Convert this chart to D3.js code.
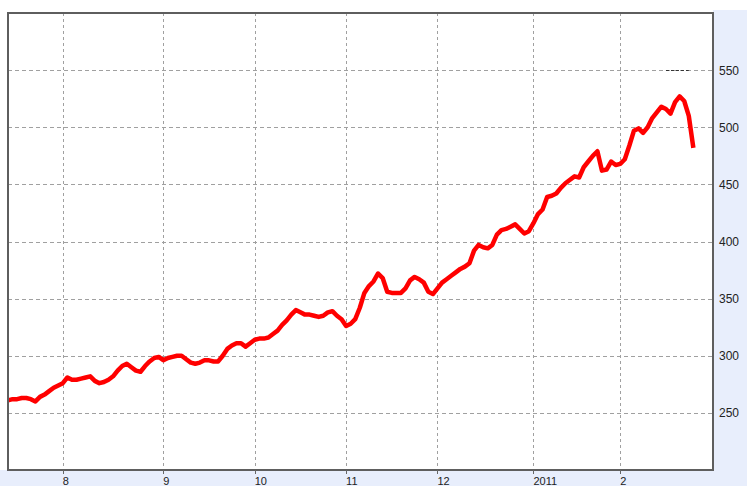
<!DOCTYPE html>
<html>
<head>
<meta charset="utf-8">
<script src="https://cdn.jsdelivr.net/npm/d3@7"></script>
<style>
  body { margin: 0; background: #fff; }
  svg { display: block; }
</style>
</head>
<body>
<div id="chart"></div>
<script>
// closing prices, one per trading day (mid-July 2010 to late Feb 2011)
const prices = [
  261, 262, 262, 263, 263, 262, 260, 264, 266, 269,
  272, 274, 276, 281, 279, 279, 280, 281, 282, 278,
  276, 277, 279, 282, 287, 291, 293, 290, 287, 286,
  291, 295, 298, 299, 296, 298, 299, 300, 300, 297,
  294, 293, 294, 296, 296, 295, 295, 300, 306, 309,
  311, 311, 308, 311, 314, 315, 315, 316, 319, 322,
  327, 331, 336, 340, 338, 336, 336, 335, 334, 335,
  338, 339, 335, 332, 326, 328, 332, 342, 355, 361,
  365, 372, 368, 356, 355, 355, 355, 359, 366, 369,
  367, 364, 356, 354, 359, 364, 367, 370, 373, 376,
  378, 381, 392, 397, 395, 394, 397, 406, 410, 411,
  413, 415, 411, 407, 409, 416, 424, 428, 439, 440,
  442, 447, 451, 454, 457, 456, 465, 470, 475, 479,
  462, 463, 470, 467, 468, 472, 484, 497, 499, 495,
  500, 508, 513, 518, 516, 512, 522, 527, 523, 510,
  482
];

// month starts as trading-day index
const monthLabels = ['8', '9', '10', '11', '12', '2011', '2'];
const monthIndex = [12, 34, 54, 74, 94, 115, 134];

const yTicks = [250, 300, 350, 400, 450, 500, 550];
const refLevel = 550;
const refSpan = [144, 149];

const width = 747, height = 486;
const plot = { left: 8, top: 13, right: 713, bottom: 470 };

const svg = d3.select('#chart')
  .append('svg')
  .attr('width', width)
  .attr('height', height);

// light blue frame around the plot (right and bottom)
svg.append('rect')
  .attr('x', plot.right).attr('y', 10)
  .attr('width', width - plot.right).attr('height', height - 10)
  .attr('fill', '#e8eefc');
svg.append('rect')
  .attr('x', 0).attr('y', plot.bottom)
  .attr('width', width).attr('height', height - plot.bottom)
  .attr('fill', '#e8eefc');

svg.append('rect')
  .attr('x', plot.left).attr('y', plot.top)
  .attr('width', plot.right - plot.left).attr('height', plot.bottom - plot.top)
  .attr('fill', '#fff');

let x = d3.scaleLinear()
  .domain([0, 154.3])
  .range([plot.left, plot.right]);

let y = d3.scaleLinear()
  .domain([200, 600])
  .range([plot.bottom, plot.top]);

// grid
svg.append('g')
  .selectAll('line')
  .data(yTicks)
  .enter()
  .append('line')
  .attr('x1', plot.left).attr('x2', plot.right)
  .attr('y1', d => Math.round(y(d)) + 0.5)
  .attr('y2', d => Math.round(y(d)) + 0.5)
  .attr('stroke', '#a0a0a0')
  .attr('stroke-dasharray', '4,3');

svg.append('g')
  .selectAll('line')
  .data(monthIndex)
  .enter()
  .append('line')
  .attr('x1', d => Math.round(x(d)) + 0.5)
  .attr('x2', d => Math.round(x(d)) + 0.5)
  .attr('y1', plot.top).attr('y2', plot.bottom)
  .attr('stroke', '#a0a0a0')
  .attr('stroke-dasharray', '3,3');

// short dark reference dash at 550
svg.append('line')
  .attr('x1', x(refSpan[0])).attr('x2', x(refSpan[1]))
  .attr('y1', Math.round(y(refLevel)) + 0.5)
  .attr('y2', Math.round(y(refLevel)) + 0.5)
  .attr('stroke', '#333')
  .attr('stroke-dasharray', '3,2');

// price line
let line = d3.line()
  .x((d, i) => x(i))
  .y(d => y(d));

svg.append('path')
  .datum(prices)
  .attr('d', line)
  .attr('fill', 'none')
  .attr('stroke', '#ff0000')
  .attr('stroke-width', 4.5)
  .attr('stroke-linejoin', 'round');

// frame
svg.append('rect')
  .attr('x', plot.left).attr('y', plot.top)
  .attr('width', plot.right - plot.left).attr('height', plot.bottom - plot.top)
  .attr('fill', 'none')
  .attr('stroke', '#5e5e5e')
  .attr('stroke-width', 2);

// x ticks and labels
let xAxis = svg.append('g');
xAxis.selectAll('line')
  .data(monthIndex)
  .enter()
  .append('line')
  .attr('x1', d => Math.round(x(d)) + 0.5)
  .attr('x2', d => Math.round(x(d)) + 0.5)
  .attr('y1', plot.bottom).attr('y2', plot.bottom + 4)
  .attr('stroke', '#666');

xAxis.selectAll('text')
  .data(monthIndex)
  .enter()
  .append('text')
  .attr('x', d => x(d))
  .attr('y', 485)
  .style('font-family', '"Liberation Sans", Arial, sans-serif')
  .style('font-size', '11px')
  .style('fill', '#222')
  .text((d, i) => monthLabels[i]);

// y labels on the right
svg.append('g')
  .selectAll('text')
  .data(yTicks)
  .enter()
  .append('text')
  .attr('x', 719)
  .attr('y', d => y(d) + 4.5)
  .style('font-family', '"Liberation Sans", Arial, sans-serif')
  .style('font-size', '12px')
  .style('fill', '#222')
  .text(d => d);
</script>
</body>
</html>
